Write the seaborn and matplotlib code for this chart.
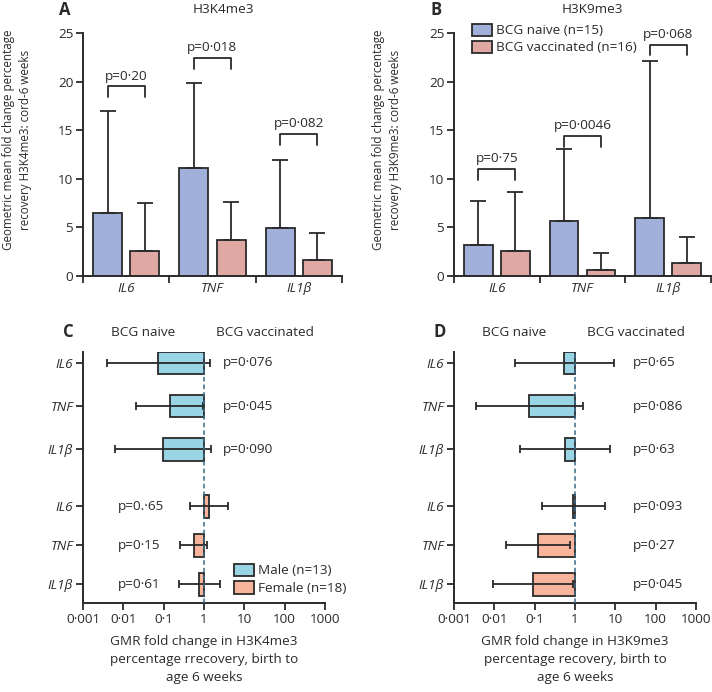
import numpy as np
import pandas as pd
import matplotlib
matplotlib.use("Agg")
import matplotlib.pyplot as plt
from matplotlib.patches import Patch
import seaborn as sns

# ---- data ----
genes = ["IL6", "TNF", "IL1β"]
groups = ["BCG naive (n=15)", "BCG vaccinated (n=16)"]

# panel A, H3K4me3, geometric mean + upper limit
a_naive = [6.45, 11.15, 4.98]
a_naive_hi = [17.0, 19.9, 11.9]
a_vacc = [2.58, 3.7, 1.62]
a_vacc_hi = [7.55, 7.65, 4.4]
a_p = ["p=0·20", "p=0·018", "p=0·082"]
a_bracket = [19.5, 22.4, 14.6]

# panel B, H3K9me3
b_naive = [3.2, 5.7, 6.0]
b_naive_hi = [7.7, 13.05, 22.1]
b_vacc = [2.58, 0.62, 1.3]
b_vacc_hi = [8.6, 2.34, 4.0]
b_p = ["p=0·75", "p=0·0046", "p=0·068"]
b_bracket = [11.0, 14.4, 23.8]

# panel C, GMR H3K4me3 (male / female)
c_male = [0.072, 0.14, 0.096]
c_male_lo = [0.004, 0.021, 0.0063]
c_male_hi = [1.38, 0.94, 1.52]
c_fem = [1.31, 0.55, 0.75]
c_fem_lo = [0.44, 0.25, 0.235]
c_fem_hi = [3.95, 1.21, 2.45]
c_p_male = ["p=0·076", "p=0·045", "p=0·090"]
c_p_fem = ["p=0.·65", "p=0·15", "p=0·61"]

# panel D, GMR H3K9me3
d_male = [0.54, 0.072, 0.55]
d_male_lo = [0.032, 0.0035, 0.043]
d_male_hi = [9.5, 1.55, 7.4]
d_fem = [0.91, 0.12, 0.092]
d_fem_lo = [0.149, 0.020, 0.0095]
d_fem_hi = [5.67, 0.74, 0.91]
d_p_male = ["p=0·65", "p=0·086", "p=0·63"]
d_p_fem = ["p=0·093", "p=0·27", "p=0·045"]

sex_labels = ["Male (n=13)", "Female (n=18)"]
x_ticks = [0.001, 0.01, 0.1, 1, 10, 100, 1000]
x_ticklabels = ["0·001", "0·01", "0·1", "1", "10", "100", "1000"]

c_naive = "#a0b0da"
c_vacc = "#e0a8a2"
c_male_col = "#99d5e5"
c_fem_col = "#f9b49c"
ink = "#2a2a2a"

sns.set_theme(style="ticks", rc={"axes.linewidth": 1.4, "axes.edgecolor": ink,
                                 "xtick.color": ink, "ytick.color": ink,
                                 "text.color": ink, "axes.labelcolor": ink})
plt.rcParams["font.family"] = ["Open Sans", "DejaVu Sans"]
FS = 9.7
narrow = ["Liberation Sans Narrow", "Open Sans"]

fig = plt.figure(figsize=(7.12, 6.92), dpi=100)
W, H = 712, 692


def px_axes(l, r, t, b):
    return fig.add_axes([l / W, 1 - b / H, (r - l) / W, (b - t) / H])


def bar_panel(ax, naive, naive_hi, vacc, vacc_hi, pvals, brackets, letter, title):
    df = pd.DataFrame({"gene": genes * 2,
                       "group": [groups[0]] * 3 + [groups[1]] * 3,
                       "value": naive + vacc})
    sns.barplot(data=df, x="gene", y="value", hue="group", order=genes,
                hue_order=groups, palette=[c_naive, c_vacc], width=0.86, gap=0.22,
                saturation=1, edgecolor=ink, linewidth=1.3, errorbar=None,
                legend=False, ax=ax)
    centers = []
    for cont, hi in zip(ax.containers, [naive_hi, vacc_hi]):
        xs = [r.get_x() + r.get_width() / 2 for r in cont]
        ys = np.array([r.get_height() for r in cont])
        centers.append(xs)
        ax.errorbar(xs, ys, yerr=[np.zeros(3), np.array(hi) - ys], fmt="none",
                    ecolor=ink, elinewidth=1.3, capsize=5.5, capthick=1.3, zorder=1)
    for x0, x1, yb, p in zip(centers[0], centers[1], brackets, pvals):
        ax.plot([x0, x0, x1, x1], [yb - 1.1, yb, yb, yb - 1.1], color=ink, lw=1.3)
        ax.text((x0 + x1) / 2, yb + 0.7, p, ha="center", va="baseline", fontsize=FS)
    ax.set_xlim(-0.5, 2.5)
    ax.set_ylim(0, 25)
    ax.set_yticks([0, 5, 10, 15, 20, 25])
    ax.tick_params(axis="y", labelsize=FS, length=5, width=1.3, pad=2)
    ax.set_xticks(range(3))
    ax.set_xticklabels(genes, fontstyle="italic", fontsize=FS)
    ax.set_xticks([-0.5, 0.5, 1.5, 2.5], minor=True)
    ax.tick_params(axis="x", which="major", length=0, pad=4)
    ax.tick_params(axis="x", which="minor", length=5, width=1.3)
    ax.set_xlabel("")
    ax.set_ylabel("")
    sns.despine(ax=ax)
    ax.text(-0.07, 1.095, letter, transform=ax.transAxes, fontsize=12,
            fontweight="bold", ha="center", va="center")
    ax.text(0.54, 1.095, title, transform=ax.transAxes, fontsize=FS,
            ha="center", va="center")


def forest_panel(ax, m, m_lo, m_hi, f, f_lo, f_hi, p_m, p_f, px_m, px_f,
                 letter, mark, legend=False):
    y_m = np.array([0, 1, 2])
    y_f = np.array([3.32, 4.22, 5.12])
    for ys, val, lo, hi, col in [(y_m, m, m_lo, m_hi, c_male_col),
                                 (y_f, f, f_lo, f_hi, c_fem_col)]:
        val = np.array(val)
        ax.barh(ys, val - 1, left=1, height=0.52, color=col, edgecolor=ink,
                linewidth=1.3, zorder=2)
        ax.errorbar(val, ys, xerr=[val - np.array(lo), np.array(hi) - val],
                    fmt="none", ecolor=ink, elinewidth=1.3, capsize=3.2,
                    capthick=1.3, zorder=3)
    ax.axvline(1, ls=(0, (3, 2)), color="#3b6a88", lw=1.1, zorder=4)
    trans = ax.get_yaxis_transform()
    for y, p in zip(y_m, p_m):
        ax.text(px_m, y, p, transform=trans, fontsize=FS, va="center", ha="left")
    for y, p in zip(y_f, p_f):
        ax.text(px_f, y, p, transform=trans, fontsize=FS, va="center", ha="left")
    ax.set_xscale("log")
    ax.set_xlim(1e-3, 1e3)
    ax.set_xticks(x_ticks)
    ax.set_xticklabels(x_ticklabels, fontsize=FS)
    ax.minorticks_off()
    ax.set_ylim(5.55, -0.25)
    ax.set_yticks(np.concatenate([y_m, y_f]))
    ax.set_yticklabels(genes * 2, fontstyle="italic", fontsize=FS)
    ax.tick_params(axis="both", length=5, width=1.3, pad=2)
    sns.despine(ax=ax)
    rec = "rrecovery" if mark == "H3K4me3" else "recovery"
    ax.set_xlabel(f"GMR fold change in {mark}\npercentage {rec}, birth to\nage 6 weeks",
                  fontsize=FS, labelpad=7, linespacing=1.5)
    ax.text(-0.06, 1.078, letter, transform=ax.transAxes, fontsize=12,
            fontweight="bold", ha="center", va="center")
    ax.text(0.25, 1.078, "BCG naive", transform=ax.transAxes, fontsize=FS,
            ha="center", va="center")
    ax.text(0.75, 1.078, "BCG vaccinated", transform=ax.transAxes, fontsize=FS,
            ha="center", va="center")
    if legend:
        handles = [Patch(facecolor=c, edgecolor=ink, linewidth=1.3, label=l)
                   for c, l in zip([c_male_col, c_fem_col], sex_labels)]
        ax.legend(handles=handles, loc="lower left", bbox_to_anchor=(0.6, 0.01),
                  frameon=False, fontsize=FS, handlelength=1.5, handleheight=1.0,
                  handletextpad=0.3, labelspacing=0.3, borderaxespad=0)


ax_a = px_axes(83, 342, 33, 276)
bar_panel(ax_a, a_naive, a_naive_hi, a_vacc, a_vacc_hi, a_p, a_bracket, "A", "H3K4me3")
fig.text(17 / W, 1 - 140 / H,
         "Geometric mean fold change percentage\nrecovery H3K4me3: cord-6 weeks",
         rotation=90, ha="center", va="center", fontsize=8.4, linespacing=1.4,
         family=narrow)

ax_b = px_axes(454, 711, 33, 276)
bar_panel(ax_b, b_naive, b_naive_hi, b_vacc, b_vacc_hi, b_p, b_bracket, "B", "H3K9me3")
fig.text(387 / W, 1 - 140 / H,
         "Geometric mean fold change percentage\nrecovery H3K9me3: cord-6 weeks",
         rotation=90, ha="center", va="center", fontsize=8.4, linespacing=1.4,
         family=narrow)
leg_handles = [Patch(facecolor=c, edgecolor=ink, linewidth=1.3, label=l)
               for c, l in zip([c_naive, c_vacc], groups)]
ax_b.legend(handles=leg_handles, loc="upper left", bbox_to_anchor=(0.05, 1.06),
            frameon=False, fontsize=FS, handlelength=1.5, handleheight=1.0,
            handletextpad=0.3, labelspacing=0.25, borderaxespad=0)

ax_c = px_axes(83, 325, 352, 603)
forest_panel(ax_c, c_male, c_male_lo, c_male_hi, c_fem, c_fem_lo, c_fem_hi,
             c_p_male, c_p_fem, 0.58, 0.145, "C", "H3K4me3", legend=True)

ax_d = px_axes(454, 696, 352, 603)
forest_panel(ax_d, d_male, d_male_lo, d_male_hi, d_fem, d_fem_lo, d_fem_hi,
             d_p_male, d_p_fem, 0.74, 0.74, "D", "H3K9me3")

fig.savefig("out.png", dpi=100)
